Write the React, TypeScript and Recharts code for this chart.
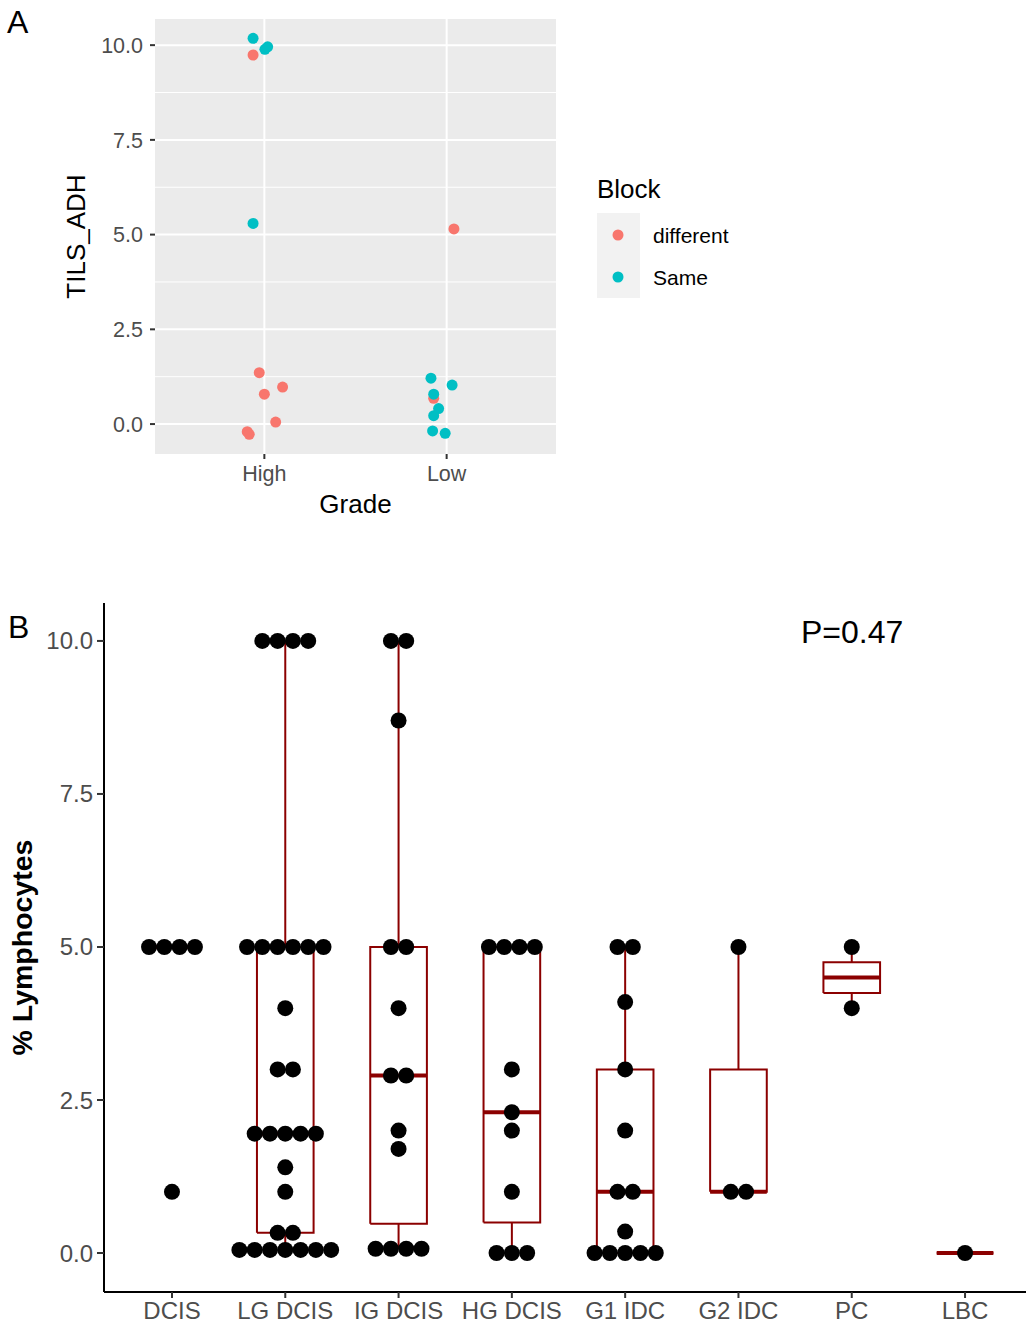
import React from 'react';
import { ScatterChart, ComposedChart, Scatter, Line, XAxis, YAxis, CartesianGrid } from 'recharts';

const FONT = '"Liberation Sans", Arial, Helvetica, sans-serif';

// ---------- Panel A data ----------
const grades = ['High', 'Low'];
const blockNames = ['different', 'Same'];
const blockColors = ['#F8766D', '#00BFC4'];

const differentGrade = ['High', 'High', 'High', 'High', 'High', 'High', 'High', 'Low', 'Low'];
const differentJitter = [-0.062, -0.028, 0.1, 0.0, 0.062, -0.094, -0.083, 0.04, -0.071];
const differentValues = [9.74, 1.355, 0.976, 0.79, 0.053, -0.2, -0.27, 5.15, 0.68];

const sameGrade = ['High', 'High', 'High', 'High', 'Low', 'Low', 'Low', 'Low', 'Low', 'Low', 'Low'];
const sameJitter = [-0.062, 0.003, 0.018, -0.062, -0.086, 0.03, -0.071, -0.044, -0.071, -0.077, -0.008];
const sameValues = [10.18, 9.89, 9.955, 5.295, 1.21, 1.03, 0.79, 0.41, 0.22, -0.18, -0.245];

const aTicks = [0, 2.5, 5, 7.5, 10];
const aMinor = [1.25, 3.75, 6.25, 8.75];

// ---------- Panel B data ----------
const categories = ['DCIS', 'LG DCIS', 'IG DCIS', 'HG DCIS', 'G1 IDC', 'G2 IDC', 'PC', 'LBC'];
const dcisValues = [5, 5, 5, 5, 1];
const lgDcisValues = [10, 10, 10, 10, 5, 5, 5, 5, 5, 5, 4, 3, 3, 1.95, 1.95, 1.95, 1.95, 1.95, 1.4, 1, 0.33, 0.33, 0.05, 0.05, 0.05, 0.05, 0.05, 0.05, 0.05];
const igDcisValues = [10, 10, 8.7, 5, 5, 4, 2.9, 2.9, 2, 1.7, 0.07, 0.07, 0.07, 0.07];
const hgDcisValues = [5, 5, 5, 5, 3, 2.3, 2, 1, 0, 0, 0];
const g1IdcValues = [5, 5, 4.1, 3, 2, 1, 1, 0.35, 0, 0, 0, 0, 0];
const g2IdcValues = [5, 1, 1];
const pcValues = [5, 4];
const lbcValues = [0];
const groupValues = [dcisValues, lgDcisValues, igDcisValues, hgDcisValues, g1IdcValues, g2IdcValues, pcValues, lbcValues];
const bTicks = [0, 2.5, 5, 7.5, 10];
const pValueLabel = 'P=0.47';

// ---------- derived ----------
const toPoints = (g: string[], j: number[], v: number[]) =>
  v.map((y, i) => ({ x: grades.indexOf(g[i]) + 1 + j[i], y }));
const differentPoints = toPoints(differentGrade, differentJitter, differentValues);
const samePoints = toPoints(sameGrade, sameJitter, sameValues);
const aSeries = [differentPoints, samePoints];

const DOT_STEP = 0.135;
const BOX_HALF = 0.25;

function quantile(sorted: number[], p: number) {
  const h = (sorted.length - 1) * p;
  const lo = Math.floor(h);
  const hi = Math.ceil(h);
  return sorted[lo] + (h - lo) * (sorted[hi] - sorted[lo]);
}

const dotPoints: { x: number; y: number }[] = [];
const lineSpecs: { key: string; data: { x: number; y: number }[]; w: number }[] = [];

groupValues.forEach((vals, gi) => {
  const pos = gi + 1;
  const counts = new Map<number, number>();
  vals.forEach((v) => counts.set(v, (counts.get(v) || 0) + 1));
  counts.forEach((n, v) => {
    for (let k = 0; k < n; k++) dotPoints.push({ x: pos + (k - (n - 1) / 2) * DOT_STEP, y: v });
  });
  const s = [...vals].sort((a, b) => a - b);
  const q1 = quantile(s, 0.25);
  const med = quantile(s, 0.5);
  const q3 = quantile(s, 0.75);
  const iqr = q3 - q1;
  const upper = Math.max(...s.filter((v) => v <= q3 + 1.5 * iqr));
  const lower = Math.min(...s.filter((v) => v >= q1 - 1.5 * iqr));
  lineSpecs.push({ key: `wu${gi}`, data: [{ x: pos, y: q3 }, { x: pos, y: upper }], w: 2 });
  lineSpecs.push({ key: `wl${gi}`, data: [{ x: pos, y: q1 }, { x: pos, y: lower }], w: 2 });
  lineSpecs.push({
    key: `box${gi}`,
    data: [
      { x: pos - BOX_HALF, y: q1 },
      { x: pos + BOX_HALF, y: q1 },
      { x: pos + BOX_HALF, y: q3 },
      { x: pos - BOX_HALF, y: q3 },
      { x: pos - BOX_HALF, y: q1 },
    ],
    w: 2,
  });
  lineSpecs.push({ key: `med${gi}`, data: [{ x: pos - BOX_HALF, y: med }, { x: pos + BOX_HALF, y: med }], w: 4 });
});

const tickText = (size: number) => ({ fill: '#4D4D4D', fontSize: size, fontFamily: FONT });

export default function App() {
  return (
    <div style={{ position: 'absolute', left: 0, top: 0, width: 1026, height: 1328, fontFamily: FONT, overflow: 'hidden' }}>
      <div style={{ position: 'absolute', left: 0, top: 0 }}>
        <ScatterChart width={1026} height={540} margin={{ top: 19, right: 470, bottom: 0, left: 0 }}>
          <CartesianGrid horizontal={false} vertical={false} fill="#EBEBEB" fillOpacity={1} stroke="none" />
          <CartesianGrid horizontalValues={aMinor} vertical={false} stroke="#FFFFFF" strokeWidth={1} />
          <CartesianGrid horizontalValues={aTicks} verticalValues={[1, 2]} stroke="#FFFFFF" strokeWidth={2} />
          <XAxis
            type="number"
            dataKey="x"
            domain={[0.4, 2.6]}
            allowDataOverflow
            ticks={[1, 2]}
            interval={0}
            tickFormatter={(v: number) => grades[Math.round(v) - 1]}
            axisLine={false}
            tickLine={{ stroke: '#333333', strokeWidth: 2 }}
            tickSize={5}
            tickMargin={7}
            tick={tickText(21.5)}
            height={86}
          />
          <YAxis
            type="number"
            dataKey="y"
            domain={[-0.79, 10.69]}
            allowDataOverflow
            ticks={aTicks}
            interval={0}
            tickFormatter={(v: number) => v.toFixed(1)}
            axisLine={false}
            tickLine={{ stroke: '#333333', strokeWidth: 2 }}
            tickSize={5}
            tickMargin={7}
            tick={tickText(21.5)}
            width={155}
          />
          {aSeries.map((pts, si) => (
            <Scatter
              key={blockNames[si]}
              name={blockNames[si]}
              data={pts}
              fill={blockColors[si]}
              isAnimationActive={false}
              shape={(p: any) => <circle cx={p.cx} cy={p.cy} r={5.5} fill={blockColors[si]} />}
            />
          ))}
        </ScatterChart>
      </div>

      <div style={{ position: 'absolute', left: 0, top: 560 }}>
        <ComposedChart width={1026} height={768} margin={{ top: 43, right: 0, bottom: 0, left: 0 }}>
          <XAxis
            type="number"
            dataKey="x"
            domain={[0.4, 8.538]}
            allowDataOverflow
            ticks={categories.map((_, i) => i + 1)}
            interval={0}
            tickFormatter={(v: number) => categories[Math.round(v) - 1]}
            axisLine={{ stroke: '#000000', strokeWidth: 2 }}
            tickLine={{ stroke: '#333333', strokeWidth: 2 }}
            tickSize={6}
            tickMargin={4}
            tick={tickText(24)}
            height={36}
          />
          <YAxis
            type="number"
            dataKey="y"
            domain={[-0.637, 10.62]}
            allowDataOverflow
            ticks={bTicks}
            interval={0}
            tickFormatter={(v: number) => v.toFixed(1)}
            axisLine={{ stroke: '#000000', strokeWidth: 2 }}
            tickLine={{ stroke: '#333333', strokeWidth: 2 }}
            tickSize={7}
            tickMargin={4}
            tick={tickText(24)}
            width={104}
          />
          {lineSpecs.map((l) => (
            <Line
              key={l.key}
              data={l.data}
              dataKey="y"
              type="linear"
              stroke="#8B0000"
              strokeWidth={l.w}
              strokeLinecap="butt"
              strokeLinejoin="miter"
              dot={false}
              activeDot={false}
              legendType="none"
              isAnimationActive={false}
            />
          ))}
          <Scatter
            data={dotPoints}
            fill="#000000"
            isAnimationActive={false}
            shape={(p: any) => <circle cx={p.cx} cy={p.cy} r={8} fill="#000000" />}
          />
        </ComposedChart>
      </div>

      <svg width={1026} height={1328} style={{ position: 'absolute', left: 0, top: 0, pointerEvents: 'none' }}>
        <text x={7} y={33} fontSize={32} fontFamily={FONT} fill="#000">A</text>
        <text x={8} y={638} fontSize={32} fontFamily={FONT} fill="#000">B</text>
        <text x={355.5} y={513} fontSize={26} fontFamily={FONT} textAnchor="middle" fill="#000">Grade</text>
        <text transform="translate(85,236.5) rotate(-90)" fontSize={26} fontFamily={FONT} textAnchor="middle" fill="#000">TILS_ADH</text>
        <text transform="translate(32,947.5) rotate(-90)" fontSize={28.5} fontWeight="bold" fontFamily={FONT} textAnchor="middle" fill="#000">% Lymphocytes</text>
        <text x={801} y={643} fontSize={32} fontFamily={FONT} fill="#000">{pValueLabel}</text>
        <text x={597} y={198} fontSize={26} fontFamily={FONT} fill="#000">Block</text>
        <rect x={597} y={213} width={43} height={85} fill="#F2F2F2" />
        {blockNames.map((name, i) => (
          <g key={name}>
            <circle cx={618} cy={235 + i * 42} r={5.5} fill={blockColors[i]} />
            <text x={653} y={243 + i * 42} fontSize={21} fontFamily={FONT} fill="#000">{name}</text>
          </g>
        ))}
      </svg>
    </div>
  );
}
